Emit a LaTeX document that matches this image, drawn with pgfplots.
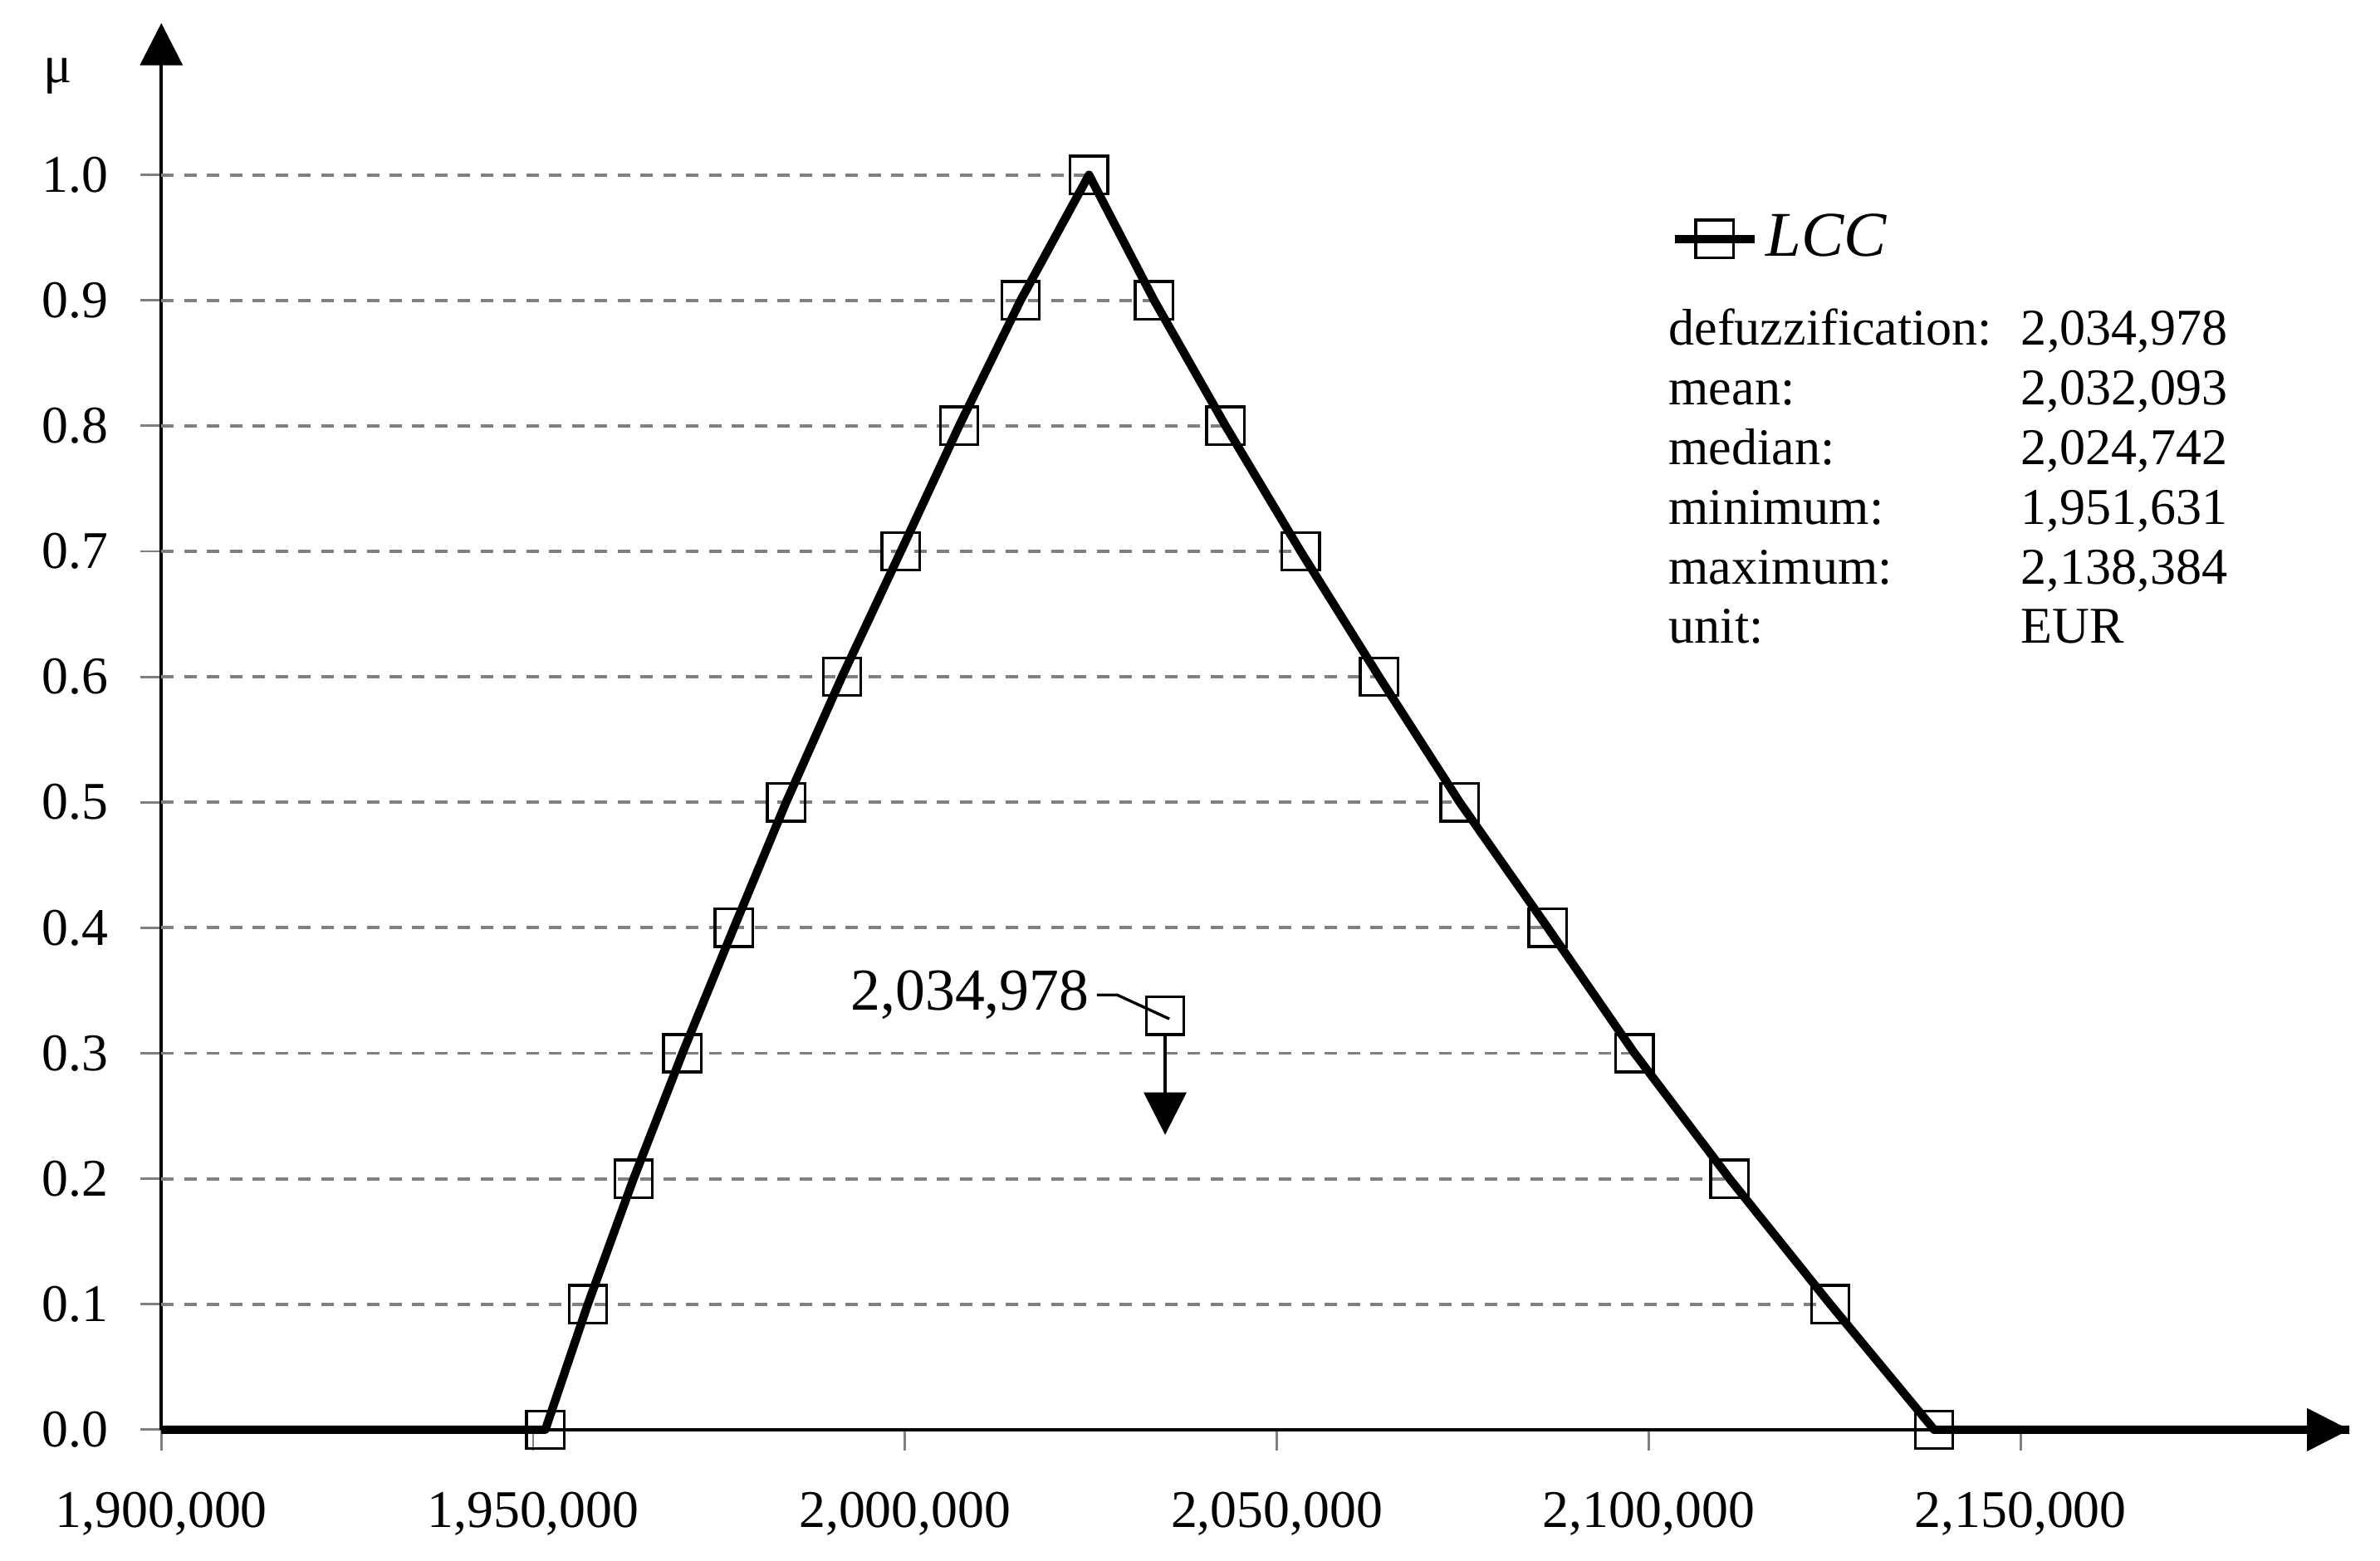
\documentclass[border=0pt]{standalone}
\usepackage{fontspec}
\setmainfont{Liberation Serif}
\usepackage{pgfplots}
\pgfplotsset{compat=1.18}
\usetikzlibrary{arrows.meta}

\begin{document}
\fontsize{11.3}{13.6}\selectfont
\begin{tikzpicture}
\begin{axis}[
    scale only axis,
    width=465.2bp, height=299.1bp,
    xmin=1900000, xmax=2194230,
    ymin=0, ymax=1.121,
    axis x line=bottom, axis y line=left,
    axis line style={line width=0.7bp, -{Triangle[length=9bp,width=9bp]}},
    xtick={1900000,1950000,2000000,2050000,2100000,2150000},
    ytick={0,0.1,0.2,0.3,0.4,0.5,0.6,0.7,0.8,0.9,1.0},
    scaled x ticks=false,
    tick align=outside,
    major tick length=4.4bp,
    tick style={black!50, line width=0.5bp},
    /pgf/number format/assume math mode=true,
    x tick label style={/pgf/number format/fixed, /pgf/number format/precision=0, /pgf/number format/1000 sep={,}, yshift=-5bp},
    y tick label style={/pgf/number format/fixed, /pgf/number format/fixed zerofill, /pgf/number format/precision=1, xshift=-3bp},
    clip=false,
    legend style={draw=none, fill=none, inner sep=0pt, at={(axis cs:2102790,0.949)}, anchor=west,
        font=\fontsize{13.6}{16}\selectfont\itshape, nodes={inner sep=1.5bp}},
    legend image code/.code={\draw[mark repeat=2, mark phase=2, #1] plot coordinates {(0bp,0bp) (8.5bp,0bp) (17bp,0bp)};},
    acut/.style={black!50, line width=0.7bp, dash pattern=on 2.65bp off 2.2bp, forget plot},
]

% alpha-cut lines from the axis to the right branch
\addplot[acut] coordinates {(1900000,0.1) (2124410,0.1)};
\addplot[acut] coordinates {(1900000,0.2) (2110880,0.2)};
\addplot[acut] coordinates {(1900000,0.3) (2098100,0.3)};
\addplot[acut] coordinates {(1900000,0.4) (2086430,0.4)};
\addplot[acut] coordinates {(1900000,0.5) (2074590,0.5)};
\addplot[acut] coordinates {(1900000,0.6) (2063750,0.6)};
\addplot[acut] coordinates {(1900000,0.7) (2053200,0.7)};
\addplot[acut] coordinates {(1900000,0.8) (2043100,0.8)};
\addplot[acut] coordinates {(1900000,0.9) (2033500,0.9)};
\addplot[acut] coordinates {(1900000,1.0) (2024742,1.0)};

% membership function of LCC
\addplot[black, line width=1.8bp, line join=round, forget plot] coordinates {
    (1900000,0) (1951631,0) (1957350,0.1) (1963500,0.2) (1970070,0.3)
    (1976990,0.4) (1984010,0.5) (1991520,0.6) (1999440,0.7) (2007280,0.8)
    (2015540,0.9) (2024742,1.0) (2033500,0.9) (2043100,0.8) (2053200,0.7)
    (2063750,0.6) (2074590,0.5) (2086430,0.4) (2098100,0.3) (2110880,0.2)
    (2124410,0.1) (2138384,0) (2194230,0)
};
\addplot[only marks, mark=square, mark size=4bp, mark options={solid, line width=0.6bp, fill=none}, forget plot] coordinates {
    (1951631,0) (1957350,0.1) (1963500,0.2) (1970070,0.3)
    (1976990,0.4) (1984010,0.5) (1991520,0.6) (1999440,0.7) (2007280,0.8)
    (2015540,0.9) (2024742,1.0) (2033500,0.9) (2043100,0.8) (2053200,0.7)
    (2063750,0.6) (2074590,0.5) (2086430,0.4) (2098100,0.3) (2110880,0.2)
    (2124410,0.1) (2138384,0)
};

% defuzzified value
\addplot[only marks, mark=square, mark size=4bp, mark options={solid, line width=0.6bp, fill=none}, forget plot] coordinates {(2034978,0.33)};
\draw[line width=0.6bp, -{Triangle[length=9bp,width=9bp]}] ([yshift=-4bp]axis cs:2034978,0.33) -- (axis cs:2034978,0.235);
\draw[line width=0.6bp] ([xshift=-14.5bp,yshift=4.4bp]axis cs:2034978,0.33) -- ([xshift=-10.2bp,yshift=4.4bp]axis cs:2034978,0.33) -- ([xshift=0.9bp,yshift=-0.7bp]axis cs:2034978,0.33);
\node[anchor=east, inner sep=0, xshift=-16bp, yshift=4.4bp, font=\fontsize{12.7}{15}\selectfont] at (axis cs:2034978,0.33) {2,034,978};

\addlegendimage{black, line width=1.8bp, mark=square, mark size=4bp, mark options={solid, line width=0.6bp, fill=none}}
\addlegendentry{LCC}

\node[anchor=base west, inner sep=0, font=\fontsize{11}{12.75}\selectfont] at (axis cs:2102590,0.8646) {%
\begin{tabular}[t]{@{}p{74.9bp}@{}l@{}}
defuzzification: & 2,034,978\\
mean: & 2,032,093\\
median: & 2,024,742\\
minimum: & 1,951,631\\
maximum: & 2,138,384\\
unit: & EUR
\end{tabular}};

\node[xshift=-22bp] at (axis cs:1900000,1.079) {μ};
\end{axis}
\path (-34.3bp,-27.75bp) rectangle (471.7bp,304bp);
\end{tikzpicture}
\end{document}
